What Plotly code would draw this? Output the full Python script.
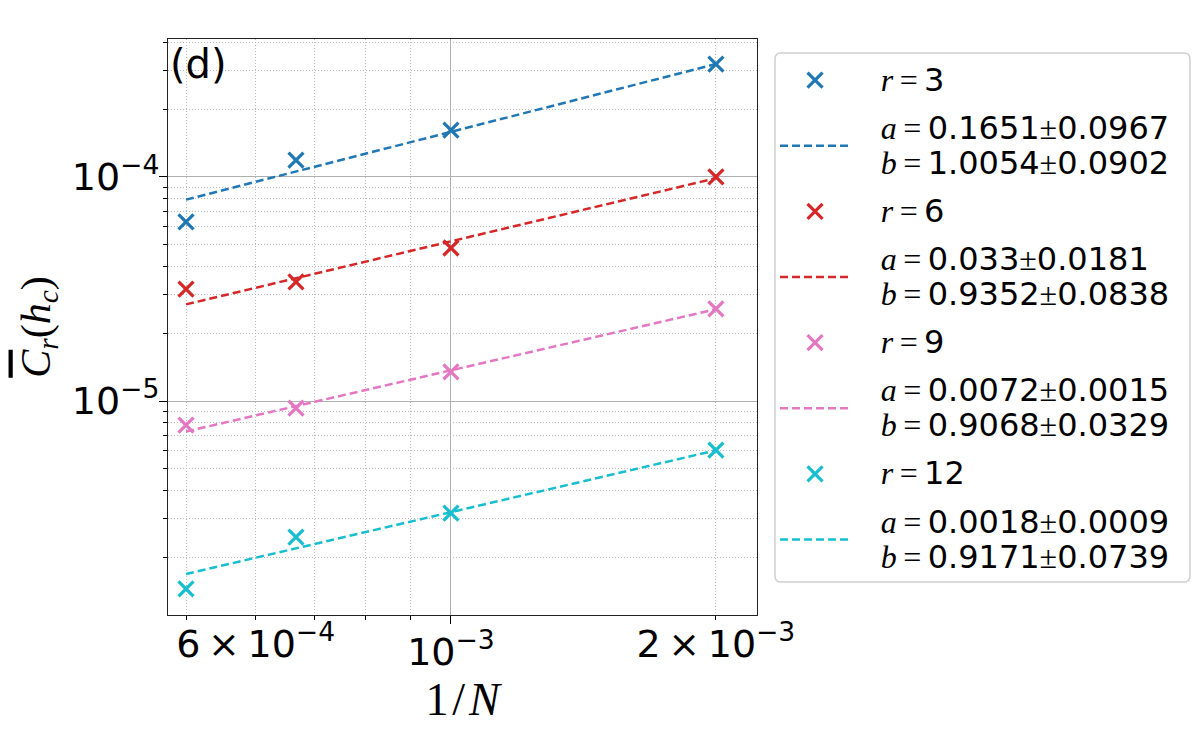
import plotly.graph_objects as go
import numpy as np

# ---- data ----
inv_N = [1/2000, 1/1500, 1/1000, 1/500]
r_values = [3, 6, 9, 12]
C_r3 = [6.3e-5, 1.19e-4, 1.62e-4, 3.19e-4]
C_r6 = [3.16e-5, 3.40e-5, 4.82e-5, 1.0e-4]
C_r9 = [7.8e-6, 9.3e-6, 1.35e-5, 2.58e-5]
C_r12 = [1.45e-6, 2.47e-6, 3.16e-6, 6.04e-6]
fit_a = [0.1651, 0.033, 0.0072, 0.0018]
fit_a_err = [0.0967, 0.0181, 0.0015, 0.0009]
fit_b = [1.0054, 0.9352, 0.9068, 0.9171]
fit_b_err = [0.0902, 0.0838, 0.0329, 0.0739]
colors = ["#1f77b4", "#d62728", "#e377c2", "#17becf"]

y_major = [1e-5, 1e-4]
y_major_text = ["10<sup>\u22125</sup>", "10<sup>\u22124</sup>"]
y_minor = [k * 1e-6 for k in range(1, 10)] + [k * 1e-5 for k in range(2, 10)] + [k * 1e-4 for k in range(2, 5)]
x_major = [1e-3]
x_major_text = ["10<sup>\u22123</sup>"]
x_label_vals = [6e-4, 2e-3]
x_label_text = ["6\u2009\u00d7\u200910<sup>\u22124</sup>", "2\u2009\u00d7\u200910<sup>\u22123</sup>"]
x_minor = [5e-4, 6e-4, 7e-4, 8e-4, 9e-4, 2e-3]

series = [C_r3, C_r6, C_r9, C_r12]

SERIF = "Liberation Serif"
PAD = "\u00a0\u00a0\u00a0"


def m(s):
    return f'<span style="font-family:{SERIF}">{s}</span>'


def big(s):
    return f'<span style="font-size:32px">{s}</span>'


fig = go.Figure()
x_arr = np.array(inv_N)
for i, (r, ys) in enumerate(zip(r_values, series)):
    fig.add_trace(go.Scatter(
        x=inv_N, y=ys, mode="markers", xaxis="x", yaxis="y",
        marker=dict(symbol="x-thin", size=15, color=colors[i],
                    line=dict(color=colors[i], width=3.2)),
        name=PAD + big(m("<i>r</i>\u2009=\u2009") + f"{r}"),
        legendgroup=f"p{i}",
    ))
    fit_y = fit_a[i] * x_arr ** fit_b[i]
    fig.add_trace(go.Scatter(
        x=inv_N, y=fit_y, mode="lines", xaxis="x2", yaxis="y",
        line=dict(color=colors[i], width=2.5, dash="8px,4px"),
        name=(PAD + big(m("<i>a</i>\u2009=\u2009") + f"{fit_a[i]}" + m("\u00b1") + f"{fit_a_err[i]}")
              + "<br>" + PAD
              + big(m("<i>b</i>\u2009=\u2009") + f"{fit_b[i]}" + m("\u00b1") + f"{fit_b_err[i]}")),
        legendgroup=f"f{i}",
    ))

xr = [np.log10(4.77e-4), np.log10(2.227e-3)]
yr = [np.log10(1.109e-6), np.log10(4.13e-4)]

# plot area in figure pixels (for the legend frame drawn in paper units)
L, T, PW, PH = 160, 31, 589, 576
W, H = 1200, 750


def px_x(p):
    return (p - L) / PW


def px_y(p):
    return (T + PH - p) / PH


# legend frame (rounded rectangle) in figure pixels
bx0, bx1, by0, by1, rad = 767, 1182, 45, 574, 6
frame = (f"M {px_x(bx0 + rad)},{px_y(by0)} L {px_x(bx1 - rad)},{px_y(by0)} "
         f"Q {px_x(bx1)},{px_y(by0)} {px_x(bx1)},{px_y(by0 + rad)} "
         f"L {px_x(bx1)},{px_y(by1 - rad)} Q {px_x(bx1)},{px_y(by1)} {px_x(bx1 - rad)},{px_y(by1)} "
         f"L {px_x(bx0 + rad)},{px_y(by1)} Q {px_x(bx0)},{px_y(by1)} {px_x(bx0)},{px_y(by1 - rad)} "
         f"L {px_x(bx0)},{px_y(by0 + rad)} Q {px_x(bx0)},{px_y(by0)} {px_x(bx0 + rad)},{px_y(by0)} Z")

fig.update_layout(
    width=W, height=H,
    paper_bgcolor="white", plot_bgcolor="white",
    margin=dict(l=L, r=W - L - PW, t=T, b=H - T - PH),
    font=dict(family="DejaVu Sans", size=27, color="black"),
    showlegend=True,
    legend=dict(
        x=1.0306, y=0.9705, xanchor="left", yanchor="top",
        bgcolor="rgba(0,0,0,0)", borderwidth=0,
        font=dict(family="DejaVu Sans", size=27, color="black"),
        tracegroupgap=10, itemwidth=70, traceorder="grouped",
    ),
    shapes=[dict(type="path", xref="paper", yref="paper", path=frame,
                 line=dict(color="#d0d0d0", width=1.5), fillcolor="white", layer="below")],
    xaxis=dict(
        type="log", range=xr,
        tickmode="array", tickvals=x_major, ticktext=x_major_text,
        ticks="outside", ticklen=8, tickwidth=1.2, tickcolor="black",
        tickfont=dict(family="DejaVu Sans", size=38), ticklabelstandoff=-5,
        showgrid=True, gridcolor="#b0b0b0", gridwidth=1,
        showline=True, linecolor="#222222", linewidth=1.2, mirror=True,
        zeroline=False,
        minor=dict(tickmode="array", tickvals=x_minor, ticks="outside",
                   ticklen=4, tickwidth=1, tickcolor="black",
                   showgrid=True, gridcolor="#bbbbbb", griddash="1px,2px", gridwidth=1),
        title=dict(text=m("1\u200a/\u200a<i>N</i>"), font=dict(size=46), standoff=2),
    ),
    xaxis2=dict(
        type="log", range=xr, matches="x", overlaying="x", anchor="y", side="bottom",
        tickmode="array", tickvals=x_label_vals, ticktext=x_label_text,
        ticks="", showgrid=False, showline=False, zeroline=False,
        tickfont=dict(family="DejaVu Sans", size=38), ticklabelstandoff=3,
    ),
    yaxis=dict(
        type="log", range=yr,
        tickmode="array", tickvals=y_major, ticktext=y_major_text,
        ticks="outside", ticklen=8, tickwidth=1.2, tickcolor="black",
        tickfont=dict(family="DejaVu Sans", size=38), ticklabelstandoff=-8,
        showgrid=True, gridcolor="#b0b0b0", gridwidth=1,
        showline=True, linecolor="#222222", linewidth=1.2, mirror=True,
        zeroline=False,
        minor=dict(tickmode="array", tickvals=y_minor, ticks="outside",
                   ticklen=4, tickwidth=1, tickcolor="black",
                   showgrid=True, gridcolor="#bbbbbb", griddash="1px,2px", gridwidth=1),
        title=dict(text=m('<i><span style="text-decoration:overline">C</span></i>'
                          '<sub><i>r</i></sub>(<i>h</i><sub><i>c</i></sub>)'),
                   font=dict(size=42), standoff=8),
    ),
    annotations=[dict(
        text="(d)", xref="paper", yref="paper", x=0.0, y=1.0,
        xanchor="left", yanchor="top", showarrow=False,
        font=dict(family="DejaVu Sans", size=40, color="black"),
    )],
)

fig.write_html("out.html")
